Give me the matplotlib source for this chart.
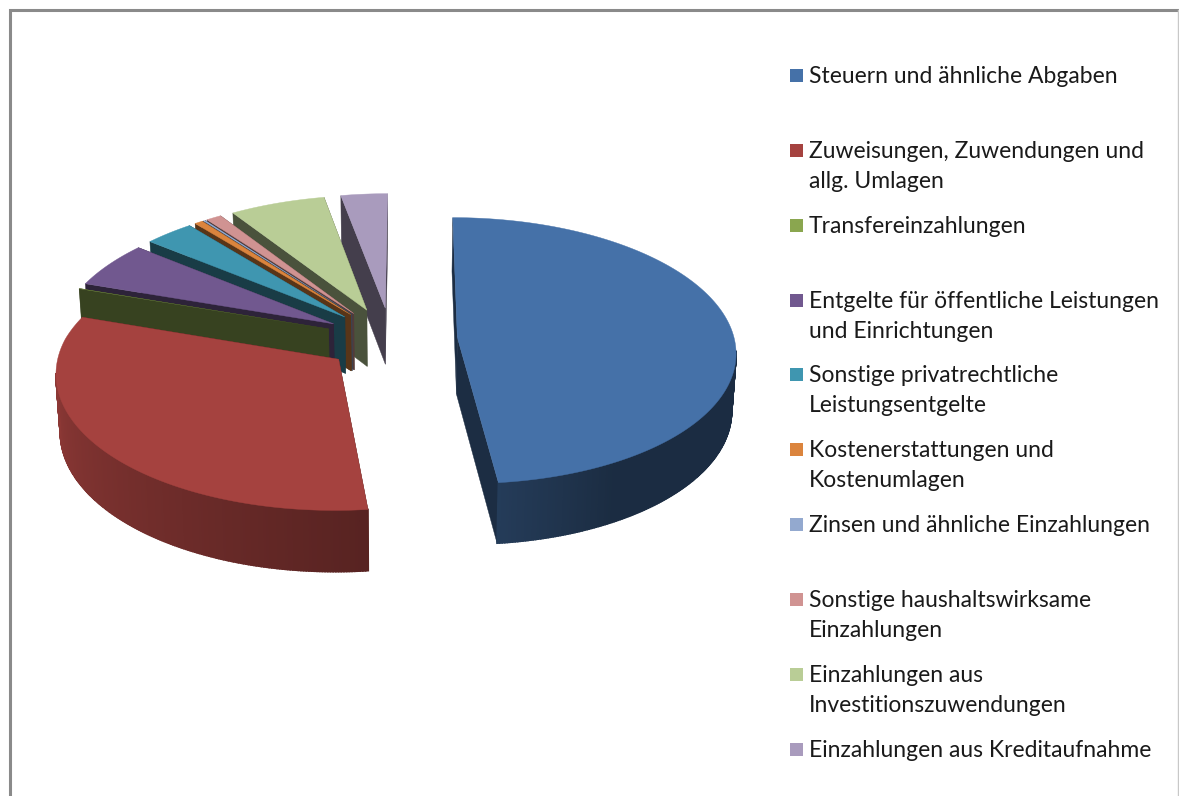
import numpy as np
import matplotlib
matplotlib.use('Agg')
import matplotlib.pyplot as plt
from matplotlib.patches import Polygon, Rectangle

plt.rcParams['font.family'] = ['Lato', 'DejaVu Sans']

# --- dati (quote in %, lette a occhio dal grafico) ---
labels = ['Steuern und ähnliche Abgaben',
          'Zuweisungen, Zuwendungen und\nallg. Umlagen',
          'Transfereinzahlungen',
          'Entgelte für öffentliche Leistungen\nund Einrichtungen',
          'Sonstige privatrechtliche\nLeistungsentgelte',
          'Kostenerstattungen und\nKostenumlagen',
          'Zinsen und ähnliche Einzahlungen',
          'Sonstige haushaltswirksame\nEinzahlungen',
          'Einzahlungen aus\nInvestitionszuwendungen',
          'Einzahlungen aus Kreditaufnahme']
values = [48.3, 31.84, 0.05, 5.6, 3.23, 0.53, 0.15, 1.0, 6.25, 3.05]
colors = ['#4571a8', '#a5423f', '#8aa64f', '#71588f', '#3f96b0',
          '#db843d', '#93a9cf', '#d09392', '#b9cd96', '#a99bbd']
legend_y = [75, 150, 225, 300, 374, 449, 524, 599, 674, 749]

# --- geometria della torta 3D (pixel) ---
cx, cy = 391, 339
a, b = 277, 132.7
explode = 0.24


def proietta(X, Y):
    # prospettiva e punto di fuga orizzontale diversi davanti e dietro
    d = 1 / (1 + np.where(Y > 0, 0.106, 0.095) * Y)
    vx = np.where(Y > 0, 410, 375)
    return vx + (cx + a * X - vx) * d, cy - b * Y * d


def sotto(x, y):
    # punto corrispondente sulla faccia inferiore
    return cx + (x - cx) * 0.987, y + 57 + 0.025 * (y - 341)


def luce(theta):
    return np.interp(theta, [0, 150, 174, 270, 360], [.39, .39, .53, .87, .87])


def scurisci(col, f):
    return tuple(np.array(matplotlib.colors.to_rgb(col)) * f)


fig = plt.figure(figsize=(11.79, 7.96), dpi=100)
ax = fig.add_axes([0, 0, 1, 1])
ax.set_xlim(0, 1179)
ax.set_ylim(796, 0)
ax.axis('off')

# cornice
ax.plot([9.5, 9.5, 1179], [796, 10, 10], color='#8a8a8a', lw=2.2, solid_joinstyle='miter')
ax.plot([1178, 1178], [10, 796], color='#c8c8c8', lw=1)

fette = []
inizio = 0
tot = sum(values)
for v, col in zip(values, colors):
    fine = inizio + 360 * v / tot
    fette.append((inizio, fine, col))
    inizio = fine

# dal fondo verso il davanti
for t0, t1, col in fette[::-1]:
    mid = np.radians((t0 + t1) / 2)
    ox, oy = explode * np.sin(mid), explode * np.cos(mid)
    th = np.linspace(t0, t1, max(int(t1 - t0) * 2, 2))
    xs, ys = proietta(ox + np.sin(np.radians(th)), oy + np.cos(np.radians(th)))
    ax_, ay_ = proietta(ox, oy)
    xb, yb = sotto(xs, ys)
    axb, ayb = sotto(ax_, ay_)
    scuro = scurisci(col, 0.4)
    # pareti radiali
    for k in (0, -1):
        ax.add_patch(Polygon([(ax_, ay_), (xs[k], ys[k]), (xb[k], yb[k]), (axb, ayb)],
                             fc=scuro, ec=scuro, lw=0.3))
    # parete esterna con sfumatura, solo la parte rivolta verso chi guarda
    for k in range(len(th) - 1):
        tm = (th[k] + th[k + 1]) / 2
        if np.cos(np.radians(tm)) > -0.1:
            continue
        c = scurisci(col, luce(tm))
        ax.add_patch(Polygon([(xs[k], ys[k]), (xs[k + 1], ys[k + 1]),
                              (xb[k + 1], yb[k + 1]), (xb[k], yb[k])],
                             fc=c, ec=c, lw=1.2))
    # faccia superiore (le fette sottilissime non hanno bordo)
    ax.add_patch(Polygon(np.r_[[[ax_, ay_]], np.c_[xs, ys]], fc=col, ec=col,
                         lw=0.3 if t1 - t0 > 1 else 0))

# legenda
for lab, y, col in zip(labels, legend_y, colors):
    ax.add_patch(Rectangle((790, y - 6), 12.5, 12.5, fc=col, ec='none'))
    for n, riga in enumerate(lab.split('\n')):
        ax.text(809, y + 8 + n * 30.3, riga, fontsize=16.5, color='#1a1a1a', va='baseline', ha='left')

fig.savefig('out.png', dpi=100)
